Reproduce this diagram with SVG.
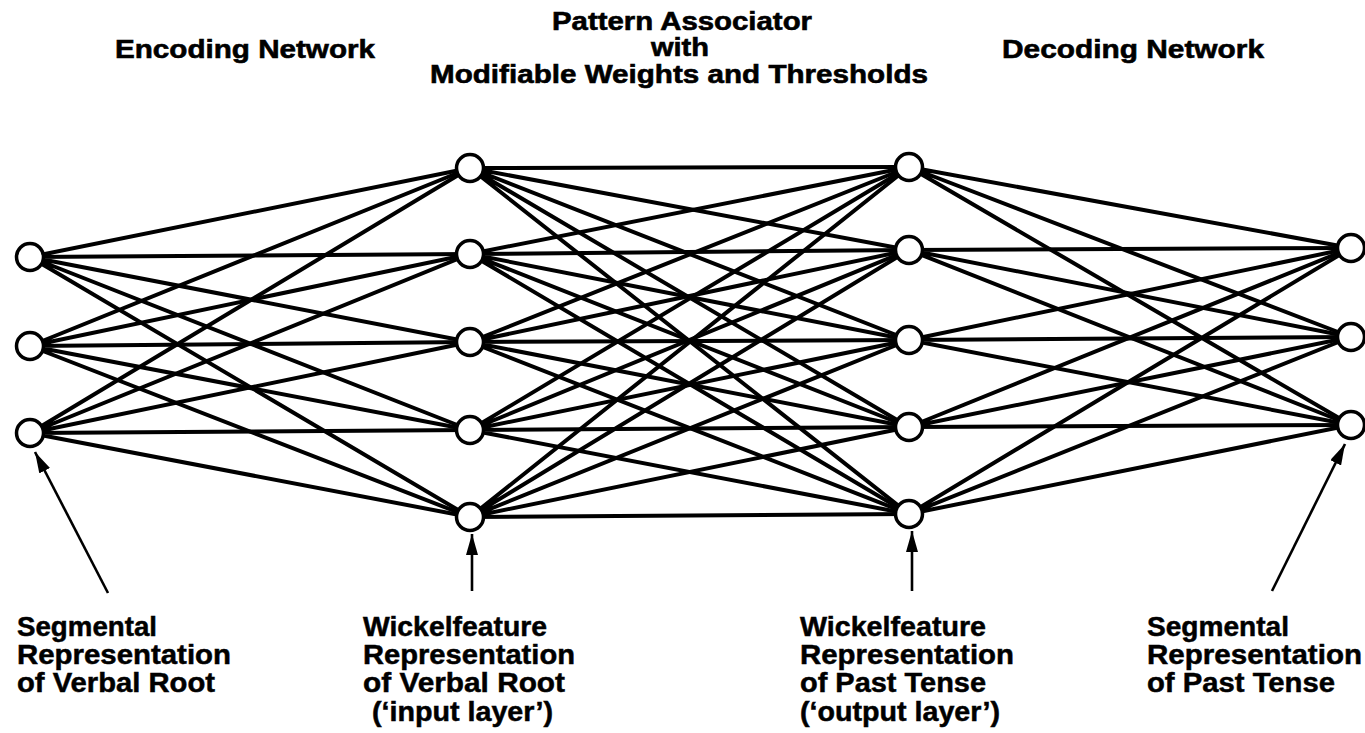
<svg xmlns="http://www.w3.org/2000/svg" width="1365" height="733" viewBox="0 0 1365 733">
  <style>
    .title { font-family: "Liberation Sans", Arial, sans-serif; font-weight: bold; font-size: 25.5px; fill: #000; stroke: #000; stroke-width: 0.6; }
    .label { font-family: "Liberation Sans", Arial, sans-serif; font-weight: bold; font-size: 28px; fill: #000; stroke: #000; stroke-width: 0.5; }
    .note { font-family: "Liberation Sans", Arial, sans-serif; font-weight: bold; font-size: 27px; fill: #000; stroke: #000; stroke-width: 0.5; }
    .edge { stroke: #000; stroke-width: 4; stroke-linecap: round; fill: none; }
    .pointer { stroke: #000; stroke-width: 2.6; fill: none; }
    .unit { fill: #fff; stroke: #000; stroke-width: 3.5; }
  </style>
  <defs>
    <marker id="head" markerUnits="userSpaceOnUse" markerWidth="22" markerHeight="12" refX="21" refY="6" orient="auto">
      <path d="M0,0 L21,6 L0,12 Z" fill="#000"/>
    </marker>
  </defs>
  <rect width="1365" height="733" fill="#fff"/>

  <!-- headings -->
  <g id="headings">
    <text class="title" x="115" y="58" textLength="260" lengthAdjust="spacingAndGlyphs">Encoding Network</text>
    <text class="title" x="552" y="30" textLength="260" lengthAdjust="spacingAndGlyphs">Pattern Associator</text>
    <text class="title" x="651" y="56" textLength="58" lengthAdjust="spacingAndGlyphs">with</text>
    <text class="title" x="430" y="83" textLength="498" lengthAdjust="spacingAndGlyphs">Modifiable Weights and Thresholds</text>
    <text class="title" x="1002" y="58" textLength="262" lengthAdjust="spacingAndGlyphs">Decoding Network</text>
  </g>

  <!-- full connections between adjacent layers -->
  <g id="connectors">
    <!-- segmental root (3) to wickelfeature input (5) -->
    <path class="edge" d="M30,257 L470,168 M30,257 L470,254 M30,257 L470,342 M30,257 L470,430 M30,257 L470,517"/>
    <path class="edge" d="M30,346 L470,168 M30,346 L470,254 M30,346 L470,342 M30,346 L470,430 M30,346 L470,517"/>
    <path class="edge" d="M30,433 L470,168 M30,433 L470,254 M30,433 L470,342 M30,433 L470,430 M30,433 L470,517"/>
    <!-- pattern associator (5 x 5) -->
    <path class="edge" d="M470,168 L909,167 M470,168 L909,250 M470,168 L909,340 M470,168 L909,427 M470,168 L909,514"/>
    <path class="edge" d="M470,254 L909,167 M470,254 L909,250 M470,254 L909,340 M470,254 L909,427 M470,254 L909,514"/>
    <path class="edge" d="M470,342 L909,167 M470,342 L909,250 M470,342 L909,340 M470,342 L909,427 M470,342 L909,514"/>
    <path class="edge" d="M470,430 L909,167 M470,430 L909,250 M470,430 L909,340 M470,430 L909,427 M470,430 L909,514"/>
    <path class="edge" d="M470,517 L909,167 M470,517 L909,250 M470,517 L909,340 M470,517 L909,427 M470,517 L909,514"/>
    <!-- wickelfeature output (5) to segmental past tense (3) -->
    <path class="edge" d="M909,167 L1351,248 M909,167 L1351,337 M909,167 L1351,425"/>
    <path class="edge" d="M909,250 L1351,248 M909,250 L1351,337 M909,250 L1351,425"/>
    <path class="edge" d="M909,340 L1351,248 M909,340 L1351,337 M909,340 L1351,425"/>
    <path class="edge" d="M909,427 L1351,248 M909,427 L1351,337 M909,427 L1351,425"/>
    <path class="edge" d="M909,514 L1351,248 M909,514 L1351,337 M909,514 L1351,425"/>
    <!-- label pointers -->
    <line class="pointer" x1="108" y1="593" x2="35" y2="452" marker-end="url(#head)"/>
    <line class="pointer" x1="472" y1="591" x2="472" y2="534" marker-end="url(#head)"/>
    <line class="pointer" x1="912" y1="591" x2="912" y2="531" marker-end="url(#head)"/>
    <line class="pointer" x1="1272" y1="591" x2="1345" y2="444" marker-end="url(#head)"/>
  </g>

  <!-- units -->
  <g id="segmental-root">
    <circle class="unit" cx="30" cy="257" r="13.5"/>
    <circle class="unit" cx="30" cy="346" r="13.5"/>
    <circle class="unit" cx="30" cy="433" r="13.5"/>
  </g>
  <g id="wickel-input">
    <circle class="unit" cx="470" cy="168" r="13.5"/>
    <circle class="unit" cx="470" cy="254" r="13.5"/>
    <circle class="unit" cx="470" cy="342" r="13.5"/>
    <circle class="unit" cx="470" cy="430" r="13.5"/>
    <circle class="unit" cx="470" cy="517" r="13.5"/>
  </g>
  <g id="wickel-output">
    <circle class="unit" cx="909" cy="167" r="13.5"/>
    <circle class="unit" cx="909" cy="250" r="13.5"/>
    <circle class="unit" cx="909" cy="340" r="13.5"/>
    <circle class="unit" cx="909" cy="427" r="13.5"/>
    <circle class="unit" cx="909" cy="514" r="13.5"/>
  </g>
  <g id="segmental-past">
    <circle class="unit" cx="1351" cy="248" r="13.5"/>
    <circle class="unit" cx="1351" cy="337" r="13.5"/>
    <circle class="unit" cx="1351" cy="425" r="13.5"/>
  </g>

  <!-- layer captions -->
  <g id="caption-segmental-root" class="label">
    <text x="17" y="636" textLength="140" lengthAdjust="spacingAndGlyphs">Segmental</text>
    <text x="17" y="664" textLength="214" lengthAdjust="spacingAndGlyphs">Representation</text>
    <text x="17" y="692" textLength="198" lengthAdjust="spacingAndGlyphs">of Verbal Root</text>
  </g>
  <g id="caption-wickel-input" class="label">
    <text x="363" y="636" textLength="184" lengthAdjust="spacingAndGlyphs">Wickelfeature</text>
    <text x="363" y="664" textLength="212" lengthAdjust="spacingAndGlyphs">Representation</text>
    <text x="363" y="692" textLength="202" lengthAdjust="spacingAndGlyphs">of Verbal Root</text>
    <text class="note" x="372" y="721" textLength="181" lengthAdjust="spacingAndGlyphs">(‘input layer’)</text>
  </g>
  <g id="caption-wickel-output" class="label">
    <text x="800" y="636" textLength="186" lengthAdjust="spacingAndGlyphs">Wickelfeature</text>
    <text x="800" y="664" textLength="214" lengthAdjust="spacingAndGlyphs">Representation</text>
    <text x="800" y="692" textLength="186" lengthAdjust="spacingAndGlyphs">of Past Tense</text>
    <text class="note" x="800" y="721" textLength="200" lengthAdjust="spacingAndGlyphs">(‘output layer’)</text>
  </g>
  <g id="caption-segmental-past" class="label">
    <text x="1147" y="636" textLength="142" lengthAdjust="spacingAndGlyphs">Segmental</text>
    <text x="1147" y="664" textLength="215" lengthAdjust="spacingAndGlyphs">Representation</text>
    <text x="1147" y="692" textLength="188" lengthAdjust="spacingAndGlyphs">of Past Tense</text>
  </g>
</svg>
